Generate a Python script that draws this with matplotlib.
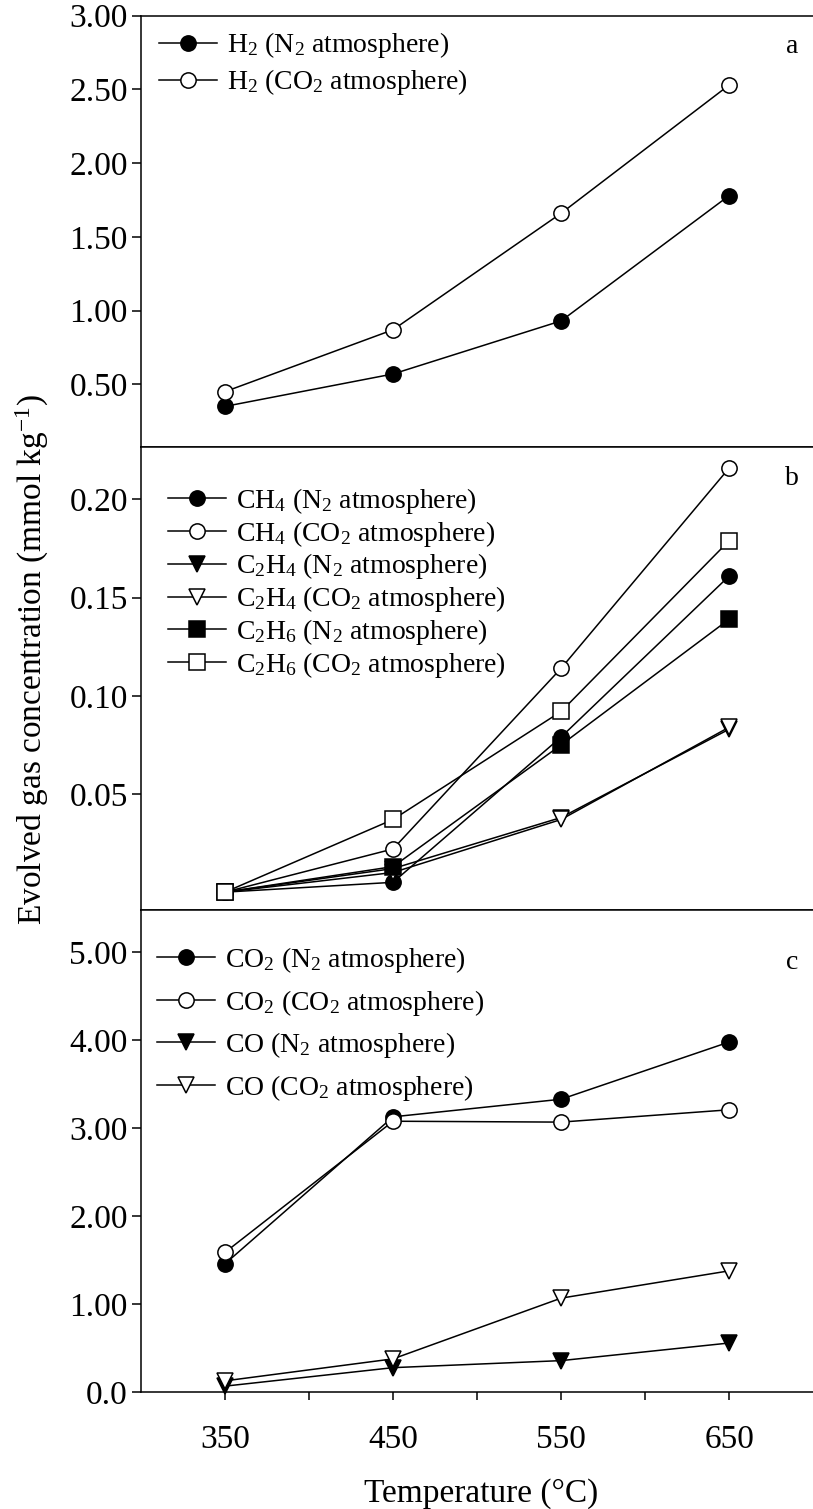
import matplotlib
matplotlib.use("Agg")
import matplotlib.pyplot as plt

plt.rcParams['font.family'] = ['Liberation Serif', 'DejaVu Serif']
plt.rcParams['mathtext.fontset'] = 'custom'
plt.rcParams['mathtext.rm'] = 'Liberation Serif'
plt.rcParams['mathtext.it'] = 'Liberation Serif:italic'
plt.rcParams['mathtext.default'] = 'rm'

# temperatures (degC)
temps = [350, 450, 550, 650]

# panel a - H2
h2_n2 = [0.35, 0.57, 0.93, 1.78]
h2_co2 = [0.45, 0.87, 1.66, 2.53]

# panel b - light hydrocarbons
ch4_n2 = [0.0, 0.005, 0.079, 0.161]
ch4_co2 = [0.0, 0.022, 0.114, 0.216]
c2h4_n2 = [0.0, 0.012, 0.038, 0.083]
c2h4_co2 = [0.0, 0.010, 0.037, 0.084]
c2h6_n2 = [0.0, 0.013, 0.075, 0.139]
c2h6_co2 = [0.0, 0.037, 0.092, 0.179]

# panel c - CO2 and CO
co2_n2 = [1.46, 3.13, 3.33, 3.98]
co2_co2 = [1.59, 3.08, 3.07, 3.21]
co_n2 = [0.07, 0.28, 0.36, 0.56]
co_co2 = [0.13, 0.38, 1.07, 1.38]

W, H = 813, 1509
fig = plt.figure(figsize=(W / 100, H / 100), dpi=100)

left = 141 / W
width = (813.2 - 141) / W


def make_ax(top_px, bot_px):
    return fig.add_axes([left, 1 - bot_px / H, width, (bot_px - top_px) / H])


ax_a = make_ax(15.7, 447)
ax_b = make_ax(447, 910)
ax_c = make_ax(910, 1392.3)

lw = 1.1
ms = 11
tick_fs = 24
leg_fs = 20


def series(ax, x, y, marker, filled, label):
    ax.plot(x, y, color='black', lw=lw, marker=marker, ms=ms,
            mfc='black' if filled else 'white', mec='black', mew=1.1,
            label=label, clip_on=False)


series(ax_a, temps, h2_n2, 'o', True, 'H$_2$ (N$_2$ atmosphere)')
series(ax_a, temps, h2_co2, 'o', False, 'H$_2$ (CO$_2$ atmosphere)')

series(ax_b, temps, ch4_n2, 'o', True, 'CH$_4$ (N$_2$ atmosphere)')
series(ax_b, temps, ch4_co2, 'o', False, 'CH$_4$ (CO$_2$ atmosphere)')
series(ax_b, temps, c2h4_n2, 'v', True, 'C$_2$H$_4$ (N$_2$ atmosphere)')
series(ax_b, temps, c2h4_co2, 'v', False, 'C$_2$H$_4$ (CO$_2$ atmosphere)')
series(ax_b, temps, c2h6_n2, 's', True, 'C$_2$H$_6$ (N$_2$ atmosphere)')
series(ax_b, temps, c2h6_co2, 's', False, 'C$_2$H$_6$ (CO$_2$ atmosphere)')

series(ax_c, temps, co2_n2, 'o', True, 'CO$_2$ (N$_2$ atmosphere)')
series(ax_c, temps, co2_co2, 'o', False, 'CO$_2$ (CO$_2$ atmosphere)')
series(ax_c, temps, co_n2, 'v', True, 'CO (N$_2$ atmosphere)')
series(ax_c, temps, co_co2, 'v', False, 'CO (CO$_2$ atmosphere)')

ax_a.set_ylim(0.0746, 3.0)
ax_a.set_yticks([0.5, 1.0, 1.5, 2.0, 2.5, 3.0])
ax_a.set_yticklabels(['0.50', '1.00', '1.50', '2.00', '2.50', '3.00'])

ax_b.set_ylim(-0.0091, 0.2267)
ax_b.set_yticks([0.05, 0.10, 0.15, 0.20])
ax_b.set_yticklabels(['0.05', '0.10', '0.15', '0.20'])

ax_c.set_ylim(0, 5.48)
ax_c.set_yticks([0, 1, 2, 3, 4, 5])
ax_c.set_yticklabels(['0.0', '1.00', '2.00', '3.00', '4.00', '5.00'])

for ax in (ax_a, ax_b, ax_c):
    ax.set_xlim(300, 700)
    ax.spines['right'].set_visible(False)
    for s in ('left', 'top', 'bottom'):
        ax.spines[s].set_linewidth(1.1)
    ax.tick_params(axis='y', direction='out', length=6.5, width=1.1,
                   pad=3, labelsize=tick_fs)

for ax in (ax_a, ax_b):
    ax.set_xticks([])

ax_c.set_xticks([350, 400, 450, 500, 550, 600, 650])
ax_c.set_xticklabels(['350', '', '450', '', '550', '', '650'])
ax_c.tick_params(axis='x', direction='out', length=6, width=1.1,
                 pad=17, labelsize=tick_fs)

ax_a.legend(loc='upper left', bbox_to_anchor=(0.027, 0.966), frameon=False,
            fontsize=leg_fs, borderpad=0, borderaxespad=0, handlelength=2.1,
            handletextpad=0.35, labelspacing=0.25)
ax_b.legend(loc='upper left', bbox_to_anchor=(0.040, 0.916), frameon=False,
            fontsize=leg_fs, borderpad=0, borderaxespad=0, handlelength=2.1,
            handletextpad=0.35, labelspacing=0.1)
ax_c.legend(loc='upper left', bbox_to_anchor=(0.024, 0.927), frameon=False,
            fontsize=leg_fs, borderpad=0, borderaxespad=0, handlelength=2.1,
            handletextpad=0.35, labelspacing=0.45)

ax_a.text(0.969, 0.928, 'a', transform=ax_a.transAxes, fontsize=leg_fs,
          ha='center', va='center')
ax_b.text(0.969, 0.933, 'b', transform=ax_b.transAxes, fontsize=leg_fs,
          ha='center', va='center')
ax_c.text(0.969, 0.892, 'c', transform=ax_c.transAxes, fontsize=leg_fs,
          ha='center', va='center')

fig.text(32 / W, 1 - 659.5 / H, 'Evolved gas concentration (mmol kg$^{-1}$)',
         rotation=90, ha='center', va='center', fontsize=24)
fig.text(481 / W, 7.3 / H, 'Temperature (°C)', ha='center', va='baseline',
         fontsize=24)

fig.savefig('out.png', dpi=100)
